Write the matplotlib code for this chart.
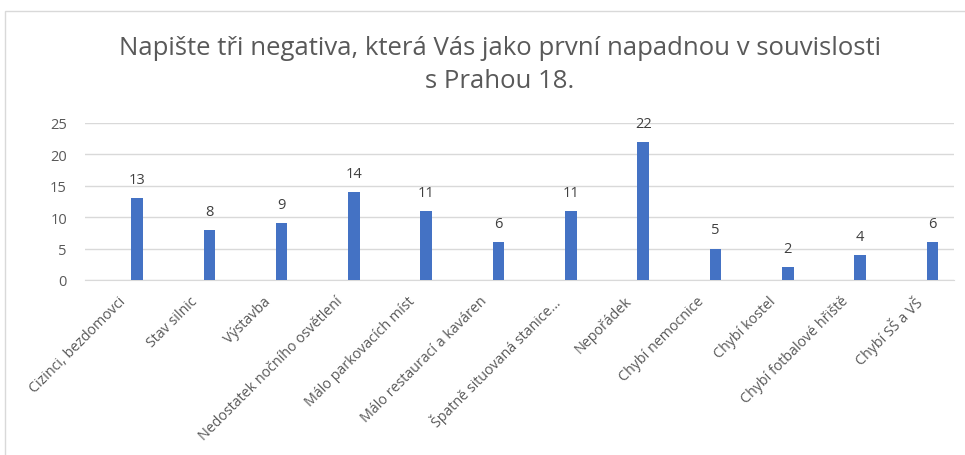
import matplotlib.pyplot as plt
from matplotlib.patches import Rectangle
from matplotlib.transforms import ScaledTranslation

categories = [
    "Cizinci, bezdomovci",
    "Stav silnic",
    "Výstavba",
    "Nedostatek nočního osvětlení",
    "Málo parkovacích míst",
    "Málo restaurací a kaváren",
    "Špatně situovaná stanice…",
    "Nepořádek",
    "Chybí nemocnice",
    "Chybí kostel",
    "Chybí fotbalové hřiště",
    "Chybí SŠ a VŠ",
]
counts = [13, 8, 9, 14, 11, 6, 11, 22, 5, 2, 4, 6]
y_ticks = [0, 5, 10, 15, 20, 25]

title = "Napište tři negativa, která Vás jako první napadnou v souvislosti\ns Prahou 18."

plt.rcParams['font.family'] = ['Open Sans', 'DejaVu Sans']

W, H = 965, 456
fig = plt.figure(figsize=(W / 100, H / 100), dpi=100)
fig.patch.set_facecolor('white')

# chart frame (Excel style), right edge falls outside the picture
fig.patches.append(Rectangle((5 / W, -0.01), 1.0, 1 - 12 / H + 0.01,
                             transform=fig.transFigure, fill=False,
                             edgecolor='#D9D9D9', linewidth=1))

ax = fig.add_axes([85 / W, (H - 281) / H, (954 - 85) / W, (281 - 124) / H])

x = list(range(len(categories)))
ax.bar(x, counts, width=0.16, color='#4472C4', zorder=3)

for xi, v in zip(x, counts):
    ax.annotate(str(v), (xi, v), xytext=(0, 8), textcoords='offset points',
                ha='center', va='bottom', fontsize=10.5, color='#404040')

ax.set_ylim(0, 25)
ax.set_xlim(-0.72, 11.30)
ax.set_yticks(y_ticks)
ax.yaxis.grid(True, color='#D9D9D9', linewidth=1, zorder=0)
ax.set_axisbelow(True)

for s in ['top', 'right', 'left']:
    ax.spines[s].set_visible(False)
ax.spines['bottom'].set_color('#D9D9D9')

ax.tick_params(axis='both', length=0, colors='#595959')
ax.tick_params(axis='y', pad=13, labelsize=10.5)
ax.tick_params(axis='x', pad=6)
ax.set_xticks(x)
ax.set_xticklabels(categories, rotation=45, ha='right', rotation_mode='anchor')
shift = ScaledTranslation(-19 / 100, -5 / 100, fig.dpi_scale_trans)
for lbl in ax.get_xticklabels():
    lbl.set_fontsize(10.3)
    lbl.set_transform(lbl.get_transform() + shift)

fig.text(500 / W, 1 - 65 / H, title, ha='center', va='center',
         fontsize=18.5, color='#595959', linespacing=1.45)

fig.savefig('out.png', dpi=100)
